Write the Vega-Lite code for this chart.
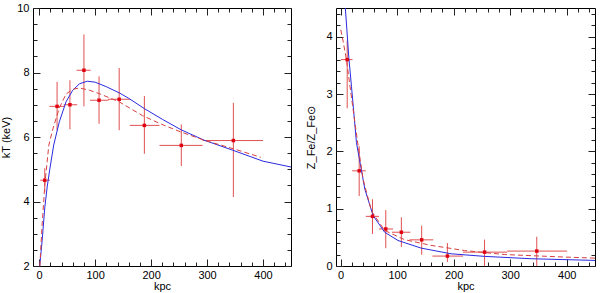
{
  "$schema": "https://vega.github.io/schema/vega-lite/v6.json",
  "autosize": {"type": "pad"},
  "padding": {"left": 0, "top": 1, "right": 3, "bottom": 0},
  "bounds": "flush",
  "spacing": 45,
  "config": {
    "view": {"stroke": "#000", "strokeWidth": 1},
    "axis": {
      "domain": false, "grid": false, "tickColor": "#222", "tickWidth": 1,
      "labelColor": "#000", "titleColor": "#000",
      "labelFont": "Liberation Sans", "titleFont": "Liberation Sans",
      "labelFontSize": 11, "titleFontSize": 11, "titleFontWeight": "normal",
      "labelOverlap": false, "labelFlush": false
    }
  },
  "datasets": {
    "kt": [
      {"r": 10, "rlo": 2, "rhi": 19, "kT": 4.66, "lo": 4.29, "hi": 5.03},
      {"r": 32, "rlo": 18.5, "rhi": 45, "kT": 6.95, "lo": 6.21, "hi": 7.71},
      {"r": 55, "rlo": 44, "rhi": 68, "kT": 7.0, "lo": 6.24, "hi": 7.76},
      {"r": 80, "rlo": 67, "rhi": 92, "kT": 8.07, "lo": 6.95, "hi": 9.18},
      {"r": 107, "rlo": 91, "rhi": 124, "kT": 7.14, "lo": 6.41, "hi": 7.88},
      {"r": 143, "rlo": 123, "rhi": 162, "kT": 7.17, "lo": 6.21, "hi": 8.14},
      {"r": 188, "rlo": 162, "rhi": 215, "kT": 6.36, "lo": 5.48, "hi": 7.27},
      {"r": 254, "rlo": 215, "rhi": 292, "kT": 5.74, "lo": 5.10, "hi": 6.39},
      {"r": 347, "rlo": 292, "rhi": 400, "kT": 5.89, "lo": 4.14, "hi": 7.06}
    ],
    "ktsolid": [
      {"r": 1.0, "kT": 2.0}, {"r": 5.4, "kT": 2.8}, {"r": 10, "kT": 3.8}, {"r": 14.3, "kT": 4.45},
      {"r": 19, "kT": 5.0}, {"r": 26, "kT": 5.75}, {"r": 36, "kT": 6.47}, {"r": 48, "kT": 7.09},
      {"r": 60, "kT": 7.45}, {"r": 72, "kT": 7.65}, {"r": 86, "kT": 7.73}, {"r": 100, "kT": 7.70},
      {"r": 120, "kT": 7.56}, {"r": 144, "kT": 7.36}, {"r": 160, "kT": 7.2}, {"r": 188, "kT": 6.88},
      {"r": 220, "kT": 6.55}, {"r": 254, "kT": 6.22}, {"r": 295, "kT": 5.9}, {"r": 346, "kT": 5.59},
      {"r": 400, "kT": 5.25}, {"r": 450, "kT": 5.07}
    ],
    "ktdash": [
      {"r": 1.2, "kT": 2.0}, {"r": 5, "kT": 3.2}, {"r": 10.2, "kT": 4.54}, {"r": 17.3, "kT": 5.75},
      {"r": 24.5, "kT": 6.25}, {"r": 36, "kT": 6.9}, {"r": 48, "kT": 7.33}, {"r": 60, "kT": 7.48},
      {"r": 72, "kT": 7.52}, {"r": 90, "kT": 7.45}, {"r": 108, "kT": 7.34}, {"r": 143, "kT": 7.09},
      {"r": 185, "kT": 6.66}, {"r": 218, "kT": 6.4}, {"r": 254, "kT": 6.15}, {"r": 295, "kT": 5.9},
      {"r": 350, "kT": 5.62}, {"r": 396, "kT": 5.37}
    ],
    "fe": [
      {"r": 11.8, "rlo": 0.6, "rhi": 21.2, "z": 3.60, "lo": 2.75, "hi": 3.93},
      {"r": 33, "rlo": 20.6, "rhi": 44.7, "z": 1.66, "lo": 1.22, "hi": 2.09},
      {"r": 56.5, "rlo": 44.7, "rhi": 68, "z": 0.866, "lo": 0.56, "hi": 1.165},
      {"r": 80, "rlo": 68, "rhi": 93, "z": 0.646, "lo": 0.31, "hi": 0.975},
      {"r": 107.6, "rlo": 91, "rhi": 123.5, "z": 0.589, "lo": 0.33, "hi": 0.85},
      {"r": 143.5, "rlo": 122, "rhi": 164, "z": 0.456, "lo": 0.196, "hi": 0.705},
      {"r": 189, "rlo": 162.4, "rhi": 216.5, "z": 0.173, "lo": 0.07, "hi": 0.40},
      {"r": 254.7, "rlo": 216.5, "rhi": 294.7, "z": 0.242, "lo": 0.0, "hi": 0.46},
      {"r": 347, "rlo": 294.7, "rhi": 400.6, "z": 0.26, "lo": 0.0, "hi": 0.51}
    ],
    "fesolid": [
      {"r": 8.5, "z": 4.5}, {"r": 14.8, "z": 3.62}, {"r": 19.4, "z": 3.13}, {"r": 28.2, "z": 2.15},
      {"r": 43, "z": 1.34}, {"r": 57.6, "z": 0.88}, {"r": 78, "z": 0.59}, {"r": 101.6, "z": 0.445},
      {"r": 142.6, "z": 0.312}, {"r": 195.5, "z": 0.213}, {"r": 254.5, "z": 0.168}, {"r": 337, "z": 0.127},
      {"r": 442.7, "z": 0.099}, {"r": 450, "z": 0.097}
    ],
    "fedash": [
      {"r": 0.5, "z": 4.12}, {"r": 5, "z": 3.9}, {"r": 10.6, "z": 3.59}, {"r": 22.4, "z": 2.72},
      {"r": 31.2, "z": 2.09}, {"r": 40, "z": 1.51}, {"r": 54.7, "z": 0.96}, {"r": 78, "z": 0.62},
      {"r": 113, "z": 0.46}, {"r": 160, "z": 0.36}, {"r": 219, "z": 0.27}, {"r": 290, "z": 0.20},
      {"r": 396, "z": 0.156}, {"r": 450, "z": 0.137}
    ]
  },
  "hconcat": [
    {
      "width": 258, "height": 258,
      "resolve": {"axis": {"x": "independent", "y": "independent"}},
      "layer": [
        {
          "data": {"name": "kt"},
          "mark": {"type": "rule", "color": "#e05050", "strokeWidth": 1},
          "encoding": {
            "x": {"field": "r", "type": "quantitative", "scale": {"domain": [-11, 450], "nice": false, "zero": false},
              "axis": {"orient": "bottom", "title": "kpc", "values": [0,20,40,60,80,100,120,140,160,180,200,220,240,260,280,300,320,340,360,380,400,420,440],
                "labelExpr": "datum.value % 100 === 0 ? datum.label : ''",
                "tickSize": {"condition": {"test": "datum.value % 100 === 0", "value": -7}, "value": -4},
                "labelPadding": 10, "titlePadding": -3}},
            "y": {"field": "lo", "type": "quantitative", "scale": {"domain": [2, 10], "nice": false, "zero": false},
              "axis": {"orient": "left", "title": "kT (keV)", "format": ".0f", "values": [2,2.5,3,3.5,4,4.5,5,5.5,6,6.5,7,7.5,8,8.5,9,9.5,10],
                "labelExpr": "datum.value % 2 === 0 ? datum.label : ''",
                "tickSize": {"condition": {"test": "datum.value % 2 === 0", "value": -7}, "value": -4},
                "labelPadding": 11, "titlePadding": 5}},
            "y2": {"field": "hi"}
          }
        },
        {
          "data": {"name": "kt"},
          "mark": {"type": "rule", "color": "#e05050", "strokeWidth": 1},
          "encoding": {
            "x": {"field": "rlo", "type": "quantitative", "axis": null},
            "x2": {"field": "rhi"},
            "y": {"field": "kT", "type": "quantitative", "axis": null}
          }
        },
        {
          "data": {"name": "ktsolid"},
          "mark": {"type": "line", "color": "#2a2ae0", "strokeWidth": 1, "clip": true},
          "encoding": {
            "x": {"field": "r", "type": "quantitative", "axis": null},
            "y": {"field": "kT", "type": "quantitative", "axis": null}
          }
        },
        {
          "data": {"name": "ktdash"},
          "mark": {"type": "line", "color": "#d84040", "strokeWidth": 1, "strokeDash": [5, 3], "clip": true},
          "encoding": {
            "x": {"field": "r", "type": "quantitative", "axis": null},
            "y": {"field": "kT", "type": "quantitative", "axis": null}
          }
        },
        {
          "data": {"name": "kt"},
          "mark": {"type": "point", "shape": "square", "filled": true, "color": "#e00010", "size": 12, "opacity": 1},
          "encoding": {
            "x": {"field": "r", "type": "quantitative",
              "axis": {"orient": "top", "title": null, "labels": false, "values": [0,20,40,60,80,100,120,140,160,180,200,220,240,260,280,300,320,340,360,380,400,420,440],
                "tickSize": {"condition": {"test": "datum.value % 100 === 0", "value": -7}, "value": -4}}},
            "y": {"field": "kT", "type": "quantitative",
              "axis": {"orient": "right", "title": null, "labels": false, "values": [2,2.5,3,3.5,4,4.5,5,5.5,6,6.5,7,7.5,8,8.5,9,9.5,10],
                "tickSize": {"condition": {"test": "datum.value % 2 === 0", "value": -7}, "value": -4}}}
          }
        }
      ]
    },
    {
      "width": 259, "height": 258,
      "resolve": {"axis": {"x": "independent", "y": "independent"}},
      "layer": [
        {
          "data": {"name": "fe"},
          "mark": {"type": "rule", "color": "#e05050", "strokeWidth": 1},
          "encoding": {
            "x": {"field": "r", "type": "quantitative", "scale": {"domain": [-8, 450], "nice": false, "zero": false},
              "axis": {"orient": "bottom", "title": "kpc", "values": [0,20,40,60,80,100,120,140,160,180,200,220,240,260,280,300,320,340,360,380,400,420,440],
                "labelExpr": "datum.value % 100 === 0 ? datum.label : ''",
                "tickSize": {"condition": {"test": "datum.value % 100 === 0", "value": -7}, "value": -4},
                "labelPadding": 10, "titlePadding": -3}},
            "y": {"field": "lo", "type": "quantitative", "scale": {"domain": [0, 4.5], "nice": false, "zero": false},
              "axis": {"orient": "left", "title": "Z_Fe/Z_Fe⊙", "format": ".0f", "values": [0,0.2,0.4,0.6,0.8,1,1.2,1.4,1.6,1.8,2,2.2,2.4,2.6,2.8,3,3.2,3.4,3.6,3.8,4,4.2,4.4],
                "labelExpr": "abs(datum.value - round(datum.value)) < 0.001 ? datum.label : ''",
                "tickSize": {"condition": {"test": "abs(datum.value - round(datum.value)) < 0.001", "value": -7}, "value": -4},
                "labelPadding": 11, "titlePadding": 9}},
            "y2": {"field": "hi"}
          }
        },
        {
          "data": {"name": "fe"},
          "mark": {"type": "rule", "color": "#e05050", "strokeWidth": 1},
          "encoding": {
            "x": {"field": "rlo", "type": "quantitative", "axis": null},
            "x2": {"field": "rhi"},
            "y": {"field": "z", "type": "quantitative", "axis": null}
          }
        },
        {
          "data": {"name": "fesolid"},
          "mark": {"type": "line", "color": "#2a2ae0", "strokeWidth": 1, "clip": true},
          "encoding": {
            "x": {"field": "r", "type": "quantitative", "axis": null},
            "y": {"field": "z", "type": "quantitative", "axis": null}
          }
        },
        {
          "data": {"name": "fedash"},
          "mark": {"type": "line", "color": "#d84040", "strokeWidth": 1, "strokeDash": [5, 3], "clip": true},
          "encoding": {
            "x": {"field": "r", "type": "quantitative", "axis": null},
            "y": {"field": "z", "type": "quantitative", "axis": null}
          }
        },
        {
          "data": {"name": "fe"},
          "mark": {"type": "point", "shape": "square", "filled": true, "color": "#e00010", "size": 12, "opacity": 1},
          "encoding": {
            "x": {"field": "r", "type": "quantitative",
              "axis": {"orient": "top", "title": null, "labels": false, "values": [0,20,40,60,80,100,120,140,160,180,200,220,240,260,280,300,320,340,360,380,400,420,440],
                "tickSize": {"condition": {"test": "datum.value % 100 === 0", "value": -7}, "value": -4}}},
            "y": {"field": "z", "type": "quantitative",
              "axis": {"orient": "right", "title": null, "labels": false, "values": [0,0.2,0.4,0.6,0.8,1,1.2,1.4,1.6,1.8,2,2.2,2.4,2.6,2.8,3,3.2,3.4,3.6,3.8,4,4.2,4.4],
                "tickSize": {"condition": {"test": "abs(datum.value - round(datum.value)) < 0.001", "value": -7}, "value": -4}}}
          }
        }
      ]
    }
  ]
}
